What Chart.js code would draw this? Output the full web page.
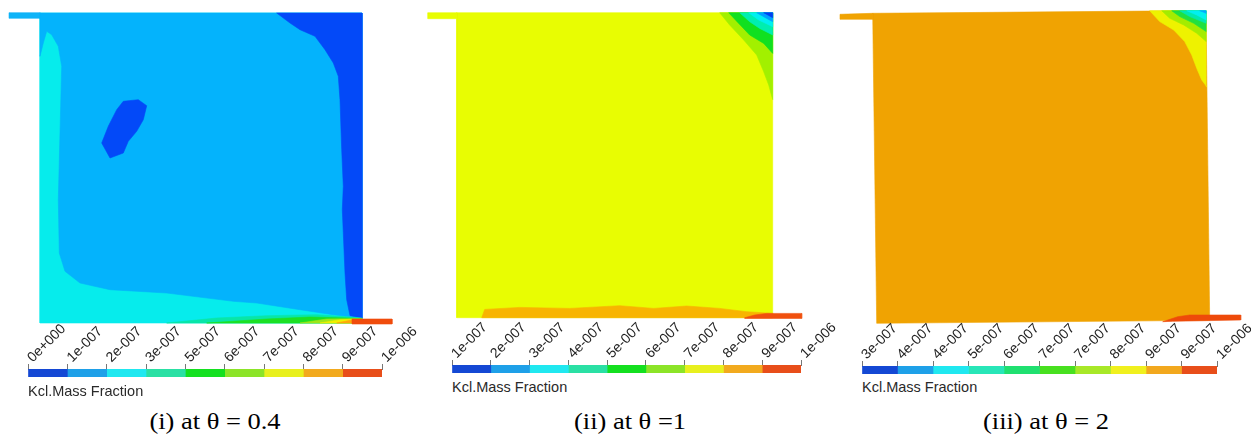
<!DOCTYPE html>
<html><head><meta charset="utf-8">
<script src="https://cdn.jsdelivr.net/npm/chart.js@4/dist/chart.umd.min.js"></script>
<style>
html,body{margin:0;padding:0;background:#fff;width:1251px;height:435px;overflow:hidden;position:relative}
canvas{position:absolute}
.lbl{position:absolute;font-family:"Liberation Sans",Arial,sans-serif;font-size:14.5px;line-height:14.5px;color:#2a2a2a;white-space:nowrap}
.cap{position:absolute;font-family:"Liberation Serif","Times New Roman",serif;font-size:23px;line-height:23px;color:#000;white-space:nowrap;transform:translateX(-50%) scaleX(1.15)}
</style></head><body>
<canvas id="p1" width="400" height="330" style="left:0;top:0"></canvas>
<canvas id="p2" width="400" height="330" style="left:420px;top:0"></canvas>
<canvas id="p3" width="421" height="330" style="left:830px;top:0"></canvas>
<canvas id="cb1" width="442" height="58" style="left:0;top:319px"></canvas>
<canvas id="cb2" width="439" height="58" style="left:422px;top:315px"></canvas>
<canvas id="cb3" width="445" height="58" style="left:832px;top:316px"></canvas>
<div class="lbl" style="left:28px;top:384px">Kcl.Mass Fraction</div>
<div class="lbl" style="left:452px;top:380px">Kcl.Mass Fraction</div>
<div class="lbl" style="left:862px;top:380px">Kcl.Mass Fraction</div>
<div class="cap" style="left:215px;top:410px">(i) at θ = 0.4</div>
<div class="cap" style="left:630px;top:410px">(ii) at θ =1</div>
<div class="cap" style="left:1046px;top:410px">(iii) at θ = 2</div>
<script>
// ---------- colour-bar tick labels ----------
const cbLabels1 = ['0e+000','1e-007','2e-007','3e-007','5e-007','6e-007','7e-007','8e-007','9e-007','1e-006'];
const cbLabels2 = ['1e-007','2e-007','3e-007','4e-007','5e-007','6e-007','7e-007','8e-007','9e-007','1e-006'];
const cbLabels3 = ['3e-007','4e-007','4e-007','5e-007','6e-007','7e-007','7e-007','8e-007','9e-007','9e-007','1e-006'];
// ---------- colour-bar bands ----------
const cbColors1 = ['#1448d4','#1ea0e8','#20e8f0','#2ae0a4','#14e020','#8ce428','#e8f01e','#f2aa1e','#e84e1a'];
const cbColors2 = ['#1448d4','#1ea0e8','#20e8f0','#2ae0a4','#14e020','#8ce428','#e8f01e','#f2aa1e','#e84e1a'];
const cbColors3 = ['#1448d4','#1ea0e8','#20e8f0','#28e6b8','#20e070','#48e020','#a8e828','#f0f01e','#f2a81e','#e84e1a'];
const cbBands1 = [1,1,1,1,1,1,1,1,1];
const cbBands2 = [1,1,1,1,1,1,1,1,1];
const cbBands3 = [1,1,1,1,1,1,1,1,1,1];

// ---------- panel (i) contour regions, domain units ----------
const p1Domain = [[0,0],[322,0],[322,310],[0,310]];
const p1Inlet = [[-31,310.3],[0,310.3],[0,304.7],[-31,304.7]];
const p1Mid = [[0,310],[322,310],[322,5],[293.3,8.3],[260,13.3],[216.7,20],[193.3,21.7],[126.7,30],[70,33.3],[40,40],[25,51.7],[19.3,70],[18.3,123.3],[20,190],[21.7,256.7],[18.3,276.7],[11.7,288.3],[6.7,291.7],[3.3,280],[0,266.7]];
const p1Low = [[236.7,310],[322,310],[322,5],[310,7.3],[306.7,23.3],[305,50],[303.3,90],[302.3,113.3],[303.3,136.7],[301.7,173.3],[300,223.3],[298.3,246.7],[293.3,260],[285,273.3],[275,286.7],[260,293.3],[250,300]];
const p1Blob = [[83.3,221.7],[98.3,223.3],[106.7,217.3],[103.3,203.3],[96.7,191.7],[88.3,181.7],[83.3,170],[70,165],[61.7,180],[68.3,196.7],[76.7,213.3]];
const p1Teal = [[126.7,0],[176.7,5],[226.7,7.3],[276.7,8.3],[313.3,5.7],[322,5],[322,0]];
const p1Green = [[166.7,0],[226.7,4],[270,6],[306.7,5],[322,4.3],[322,0]];
const p1YGreen = [[260,0],[286.7,4],[310,4.3],[322,4],[322,0]];
const p1Yellow = [[280,0],[300,3.3],[322,4],[322,0]];
const p1Orange = [[296.7,0],[310,2.7],[322,3.5],[322,0]];
const p1Outlet = [[312,4],[352,4],[352,-1],[312,-1]];

// ---------- panel (ii) ----------
const p2Domain = [[0,0],[316,0],[316,305],[0,305]];
const p2Inlet = [[-29,305],[0,305],[0,299],[-29,299]];
const p2Band = [[25,0],[28,8.3],[63,10.3],[113,9.3],[163,12],[197,9.3],[230,11.7],[263,9.3],[290,6],[316,4.3],[316,0]];
const p2Outlet = [[288,0],[298,2.7],[310,4.3],[345,4.3],[345,-0.7],[288,-0.7]];
const p2YGreen = [[263,305],[273,292.7],[287,277.7],[300,262.7],[307,246],[312,232.7],[316,218],[316,305]];
const p2Green = [[272,305],[282,294.3],[293,282.7],[307,274.3],[316,264.3],[316,305]];
const p2Teal = [[283,305],[293,296],[303,289.3],[316,282.7],[316,305]];
const p2Cyan = [[292,305],[302,297.7],[316,291],[316,305]];
const p2LBlue = [[300,305],[310,299.3],[316,296],[316,305]];
const p2DBlue = [[307,305],[316,300],[316,305]];

// ---------- panel (iii) ----------
const p3Domain = [[4,0],[337,3],[333.3,312.7],[0,310]];
const p3Inlet = [[-32.7,309],[0,310],[0,304],[-32.7,304]];
const p3Outlet = [[290,1.6],[305,6.6],[317,8.3],[368,8.3],[368,3.3],[300,2]];
const p3Yellow = [[277,312.6],[287,301.7],[301,293.3],[312,281.7],[319,268.3],[324,255],[329,243.3],[334,236.7],[333.4,312.6]];
const p3YGreen = [[289,312.6],[297,305],[311,298.3],[324,290],[333.5,281.7],[333.4,312.6]];
const p3Green = [[299,312.6],[307,306.7],[321,300],[333.5,291.7],[333.4,312.6]];
const p3Teal = [[307,312.6],[317,306.7],[333.5,300],[333.4,312.6]];
const p3Cyan = [[314,312.6],[324,308.3],[333.5,303.3],[333.4,312.6]];
const p3LBlue = [[327,312.6],[333.5,310],[333.4,312.6]];

// layers bottom -> top
const layers1 = [
  {pts:p1Domain,color:'#06ecec'},{pts:p1Inlet,color:'#0fb4f8'},{pts:p1Mid,color:'#04b3fc'},
  {pts:p1Low,color:'#0349f8'},{pts:p1Blob,color:'#0349f8'},{pts:p1Teal,color:'#08e6a8'},
  {pts:p1Green,color:'#1ce024'},{pts:p1YGreen,color:'#9ee61a'},{pts:p1Yellow,color:'#f0f000'},
  {pts:p1Orange,color:'#ffa808'},{pts:p1Outlet,color:'#f04c0c'}
];
const layers2 = [
  {pts:p2Domain,color:'#e8fd02'},{pts:p2Inlet,color:'#e8fd02'},{pts:p2Band,color:'#f8b400'},
  {pts:p2Outlet,color:'#f0500e'},{pts:p2YGreen,color:'#a2f000'},{pts:p2Green,color:'#10e020'},
  {pts:p2Teal,color:'#00eeb0'},{pts:p2Cyan,color:'#00f0f0'},{pts:p2LBlue,color:'#00a0ff'},
  {pts:p2DBlue,color:'#0040f0'}
];
const layers3 = [
  {pts:p3Domain,color:'#f0a302'},{pts:p3Inlet,color:'#f0a302'},{pts:p3Outlet,color:'#ee4a0a'},
  {pts:p3Yellow,color:'#eef200'},{pts:p3YGreen,color:'#a4ec00'},{pts:p3Green,color:'#20e040'},
  {pts:p3Teal,color:'#00e8b0'},{pts:p3Cyan,color:'#00f0f0'},{pts:p3LBlue,color:'#00a8ff'}
];

function contourChart(id, layers, xr, yr) {
  new Chart(document.getElementById(id), {
    type: 'scatter',
    data: { datasets: layers.map((L, i) => ({
      data: L.pts.concat([L.pts[0]]).map(p => ({x: p[0], y: p[1]})),
      showLine: true, fill: 'shape', tension: 0,
      backgroundColor: L.color, borderColor: L.color, borderWidth: 0.6,
      pointRadius: 0, pointHoverRadius: 0, order: layers.length - i
    }))},
    options: {
      responsive: false, animation: false, devicePixelRatio: 1, events: [],
      layout: {padding: 0},
      plugins: {legend: {display: false}, tooltip: {enabled: false}},
      scales: {
        x: {type: 'linear', display: false, min: xr[0], max: xr[1]},
        y: {type: 'linear', display: false, min: yr[0], max: yr[1]}
      }
    }
  });
}

function colorbarChart(id, labels, colors, bands, padL) {
  const total = bands.reduce((a, b) => a + b, 0);
  new Chart(document.getElementById(id), {
    type: 'bar',
    data: { labels: [''], datasets: colors.map((c, i) => ({
      data: [bands[i]], backgroundColor: c, borderWidth: 0,
      barPercentage: 1, categoryPercentage: 1
    }))},
    options: {
      indexAxis: 'y', responsive: false, animation: false, devicePixelRatio: 1, events: [],
      layout: {padding: {left: padL, right: 60, top: 0, bottom: 0}, autoPadding: false},
      plugins: {legend: {display: false}, tooltip: {enabled: false}},
      scales: {
        x: {
          type: 'linear', position: 'top', stacked: true, min: 0, max: total,
          ticks: {stepSize: 1, autoSkip: false, minRotation: 45, maxRotation: 45, padding: -2, labelOffset: 14,
            color: '#222', font: {family: '"Liberation Sans", Arial, sans-serif', size: 14},
            callback: (v, i) => labels[i]},
          grid: {drawOnChartArea: false, drawTicks: true, tickLength: 5, color: '#777', lineWidth: 1},
          border: {display: true, color: '#777'},
          afterFit: (s) => { s.height = 50; }
        },
        y: {display: false, stacked: true}
      }
    }
  });
}

contourChart('p1', layers1, [-40, 360], [-7, 323]);
contourChart('p2', layers2, [-36.7, 363.3], [-12.3, 317.7]);
contourChart('p3', layers3, [-42.7, 378.3], [-6.7, 323.3]);
colorbarChart('cb1', cbLabels1, cbColors1, cbBands1, 28);
colorbarChart('cb2', cbLabels2, cbColors2, cbBands2, 30);
colorbarChart('cb3', cbLabels3, cbColors3, cbBands3, 30);
</script>
</body></html>
